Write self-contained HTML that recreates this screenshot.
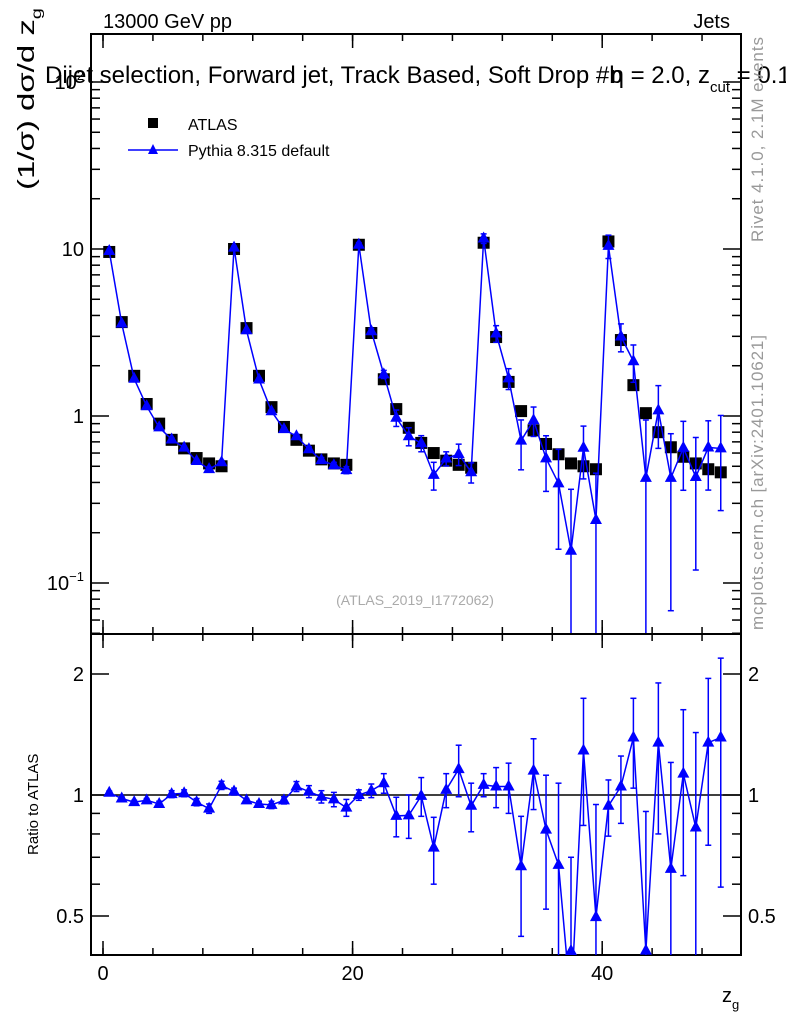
<!DOCTYPE html>
<html><head><meta charset="utf-8"><style>
html,body{margin:0;background:#fff;overflow:hidden;width:786px;height:1024px}
svg{display:block;font-family:"Liberation Sans",sans-serif}
</style></head><body>
<svg id="chart" width="786" height="1024" viewBox="0 0 786 1024" xmlns="http://www.w3.org/2000/svg">
<text x="103" y="28" font-size="20">13000 GeV pp</text>
<text x="730" y="28" font-size="20" text-anchor="end">Jets</text>
<g id="upper"></g>
<g id="lower"></g>
<text x="45" y="83" font-size="24">Dijet selection, Forward jet, Track Based, Soft Drop #b<tspan dx="-12">η = 2.0, z</tspan><tspan font-size="15" dy="9">cut</tspan><tspan dy="-9"> = 0.1</tspan></text>
<text transform="translate(34,190) rotate(-90)" font-size="23" textLength="182" lengthAdjust="spacingAndGlyphs">(1/σ) dσ/d z<tspan font-size="14" dy="7">g</tspan></text>
<text transform="translate(38,855) rotate(-90)" font-size="15">Ratio to ATLAS</text>
<text x="722" y="1002" font-size="20">z<tspan font-size="13" dy="7">g</tspan></text>
<text transform="translate(763,242) rotate(-90)" font-size="17" fill="#999" textLength="205" lengthAdjust="spacing">Rivet 4.1.0,  2.1M events</text>
<text transform="translate(763,630) rotate(-90)" font-size="17" fill="#999" textLength="295" lengthAdjust="spacing">mcplots.cern.ch [arXiv:2401.10621]</text>
<text x="415" y="605" font-size="14" fill="#aaa" text-anchor="middle">(ATLAS_2019_I1772062)</text>
<g>
<rect x="148" y="118" width="10" height="10" fill="#000"/>
<text x="188" y="130" font-size="16">ATLAS</text>
<line x1="128" y1="150" x2="178" y2="150" stroke="#00f" stroke-width="1.5"/>
<path d="M153 144 L158 154 L148 154 Z" fill="#00f"/>
<text x="188" y="156" font-size="16">Pythia 8.315 default</text>
</g>
</svg>
<script>
const atlas=[9.6,3.65,1.74,1.18,0.9,0.72,0.64,0.56,0.52,0.5,10,3.36,1.74,1.13,0.86,0.72,0.62,0.55,0.52,0.51,10.6,3.14,1.66,1.1,0.85,0.69,0.6,0.54,0.51,0.49,10.9,2.97,1.6,1.07,0.82,0.68,0.59,0.52,0.5,0.48,11.1,2.85,1.53,1.04,0.8,0.65,0.57,0.52,0.48,0.46];
const ratio=[1.013,0.98,0.96,0.97,0.95,1.005,1.01,0.96,0.925,1.057,1.02,0.97,0.95,0.945,0.97,1.05,1.02,0.99,0.975,0.93,1.0,1.025,1.07,0.887,0.89,0.995,0.74,1.03,1.16,0.94,1.06,1.05,1.05,0.665,1.15,0.82,0.67,0.3,1.29,0.497,0.94,1.05,1.39,0.41,1.35,0.655,1.13,0.83,1.35,1.39];
const ratioErr=[0.01,0.01,0.01,0.01,0.015,0.02,0.02,0.02,0.025,0.025,0.02,0.01,0.015,0.02,0.02,0.03,0.035,0.035,0.04,0.045,0.03,0.04,0.06,0.1,0.11,0.11,0.14,0.1,0.17,0.13,0.07,0.12,0.15,0.22,0.23,0.3,0.4,0.4,0.45,0.45,0.15,0.2,0.35,0.5,0.55,0.55,0.5,0.6,0.6,0.8];
const xTickLabels=[0,20,40];
const yTickLabels=[0.1,1,10,100];
const rTickLabels=[0.5,1,2];
const NS="http://www.w3.org/2000/svg";
const L=91,R=741,T=34,M=634,B=955;
const X=v=>103+(v)*12.48;
const Y=v=>416-Math.log10(v)*167;
const RY=v=>795-Math.log10(v)*402;
function mk(p,tag,a){const e=document.createElementNS(NS,tag);for(const k in a)e.setAttribute(k,a[k]);p.appendChild(e);return e;}
const up=document.getElementById('upper'),lo=document.getElementById('lower');
const defs=mk(document.getElementById('chart'),'defs',{});
const c1=mk(defs,'clipPath',{id:'cu'});mk(c1,'rect',{x:L,y:T,width:R-L,height:M-T});
const c2=mk(defs,'clipPath',{id:'cl'});mk(c2,'rect',{x:L,y:M,width:R-L,height:B-M});
const f1=mk(up,'rect',{x:L,y:T,width:R-L,height:M-T,fill:'none',stroke:'#000','stroke-width':2});

const f2=mk(lo,'rect',{x:L,y:M,width:R-L,height:B-M,fill:'none',stroke:'#000','stroke-width':2});

for(let v=0;v<=50;v+=4){const len=7;
 [[T,1],[M,-1],[M,1],[B,-1]].forEach(([y0,d])=>mk(up,'line',{x1:X(v),x2:X(v),y1:y0,y2:y0+d*len,stroke:'#000','stroke-width':1.5}));}
for(const v of [0,20,40]){[[T,1],[M,-1],[M,1],[B,-1]].forEach(([y0,d])=>mk(up,'line',{x1:X(v),x2:X(v),y1:y0,y2:y0+d*14,stroke:'#000','stroke-width':1.5}));}
xTickLabels.forEach(v=>{const t=mk(lo,'text',{x:X(v),y:980,'font-size':20,'text-anchor':'middle'});t.textContent=v;

});
for(let d=-2;d<=2;d++)for(let m=1;m<10;m++){const v=m*Math.pow(10,d);const y=Y(v);if(y<T||y>M)continue;const len=m===1?18:9;
 mk(up,'line',{x1:L,x2:L+len,y1:y,y2:y,stroke:'#000','stroke-width':1.5});mk(up,'line',{x1:R,x2:R-len,y1:y,y2:y,stroke:'#000','stroke-width':1.5});}
yTickLabels.forEach(v=>{const y=Y(v);const t=mk(up,'text',{x:84,y:y+7,'font-size':20,'text-anchor':'end'});


 if(v===1)t.textContent='1';else if(v===10)t.textContent='10';else{t.textContent='10';const s=mk(t,'tspan',{'font-size':13,dy:-9});s.textContent=v===100?'2':'−1';}});
for(const v of [0.4,0.5,0.6,0.7,0.8,0.9,1,2]){const y=RY(v);const len=(v===0.5||v===1||v===2)?18:9;
 mk(lo,'line',{x1:L,x2:L+len,y1:y,y2:y,stroke:'#000','stroke-width':1.5});mk(lo,'line',{x1:R,x2:R-len,y1:y,y2:y,stroke:'#000','stroke-width':1.5});}
rTickLabels.forEach(v=>{const y=RY(v);[[84,'end'],[748,'start']].forEach(([x,a])=>{const t=mk(lo,'text',{x:x,y:y+7,'font-size':20,'text-anchor':a});t.textContent=v;

});});
mk(lo,'line',{x1:L,x2:R,y1:RY(1),y2:RY(1),stroke:'#000','stroke-width':1.5});
const gu=mk(up,'g',{'clip-path':'url(#cu)'}),gl=mk(lo,'g',{'clip-path':'url(#cl)'});
const tri=(g,x,y)=>mk(g,'path',{d:`M${x} ${y-7} L${x+6} ${y+4} L${x-6} ${y+4} Z`,fill:'#00f'});
atlas.forEach((v,i)=>{const r=mk(gu,'rect',{x:X(i+0.5)-6,y:Y(v)-6,width:12,height:12,fill:'#000'});

});
let pu='',pl='';
atlas.forEach((v,i)=>{const x=X(i+0.5),p=v*ratio[i],e=v*ratioErr[i];
 const yp=Y(p),yr=RY(ratio[i]);pu+=(i?'L':'M')+x+' '+yp;pl+=(i?'L':'M')+x+' '+yr;
 const lo1=Math.max(p-e,1e-4),lo2=Math.max(ratio[i]-ratioErr[i],1e-4);
 mk(gu,'line',{x1:x,x2:x,y1:Y(p+e),y2:Y(lo1),stroke:'#00f','stroke-width':1.5});
 mk(gu,'line',{x1:x-3,x2:x+3,y1:Y(p+e),y2:Y(p+e),stroke:'#00f','stroke-width':1.5});
 mk(gu,'line',{x1:x-3,x2:x+3,y1:Y(lo1),y2:Y(lo1),stroke:'#00f','stroke-width':1.5});
 mk(gl,'line',{x1:x,x2:x,y1:RY(ratio[i]+ratioErr[i]),y2:RY(lo2),stroke:'#00f','stroke-width':1.5});
 mk(gl,'line',{x1:x-3,x2:x+3,y1:RY(ratio[i]+ratioErr[i]),y2:RY(ratio[i]+ratioErr[i]),stroke:'#00f','stroke-width':1.5});
 mk(gl,'line',{x1:x-3,x2:x+3,y1:RY(lo2),y2:RY(lo2),stroke:'#00f','stroke-width':1.5});
});
const l1=mk(gu,'path',{d:pu,fill:'none',stroke:'#00f','stroke-width':1.5});


const l2=mk(gl,'path',{d:pl,fill:'none',stroke:'#00f','stroke-width':1.5});


atlas.forEach((v,i)=>{const t1=tri(gu,X(i+0.5),Y(v*ratio[i]));


const t2=tri(gl,X(i+0.5),Math.min(RY(ratio[i]),B-4));

});
</script>
</body></html>
